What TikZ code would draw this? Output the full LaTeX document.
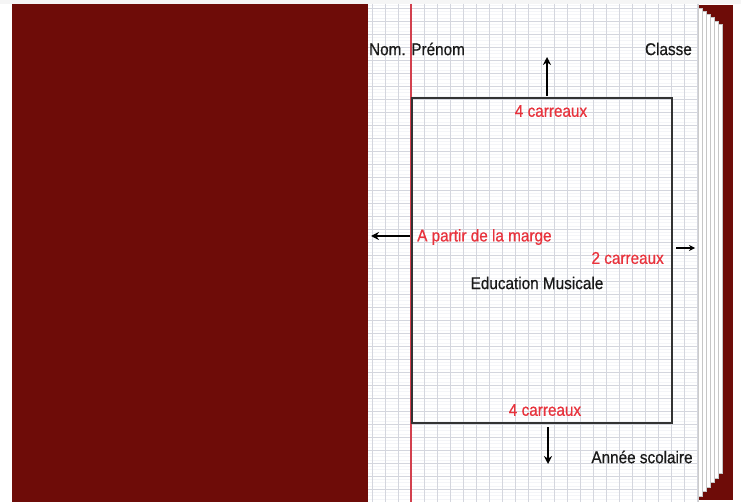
\documentclass[tikz,border=0pt]{standalone}
\usepackage{fontspec}
\setmainfont[FakeStretch=0.9,FakeBold=0.6]{Liberation Sans}
\usetikzlibrary{arrows.meta}
\definecolor{cover}{HTML}{6E0C08}
\definecolor{redtxt}{HTML}{E8323C}
\definecolor{marge}{HTML}{D2404E}
\definecolor{gridc}{HTML}{D4D6DE}
\definecolor{gridf}{HTML}{F4F5F8}
\tikzset{
  lbl/.style={font=\fontsize{17}{17}\selectfont, inner sep=0pt, text=black!90},
  rlbl/.style={lbl, text=redtxt},
  bigarrow/.style={-{Stealth[length=8pt,width=8pt]}, line width=1.9pt, black},
  smallarrow/.style={-{Stealth[length=6pt,width=6pt]}, line width=1.5pt, black},
  strip/.style={fill=white, draw=gray!45, line width=0.4pt}
}
\begin{document}
\begin{tikzpicture}[x=1pt,y=-1pt]
\useasboundingbox (0,0) rectangle (741,502);
\fill[white] (0,0) rectangle (741,502);
\fill[gray!8] (0,0) rectangle (741,4);
% left cover
\fill[cover] (12,4) rectangle (368,502);
% right back cover and page stack
\fill[cover] (697,5) -- (733,5) -- (733,500) -- (697,500) -- cycle;
\foreach \i in {5,4,3,2,1,0}{
  \draw[strip] ({698+4*\i},{8+3.2*\i}) rectangle ({702+4*\i},{496-4.5*\i});
}
% page
\fill[white] (368,4) rectangle (698,502);
\begin{scope}
\clip (368,4) rectangle (698,502);
\foreach \k in {-40,...,128}{
  \draw[gridf, line width=0.35pt] (368,{99+3.25*\k}) -- (698,{99+3.25*\k});
}
\foreach \k in {-10,...,32}{
  \draw[gridc, line width=0.55pt] (368,{99+13*\k}) -- (698,{99+13*\k});
}
\foreach \k in {-4,...,23}{
  \draw[gridc, line width=0.55pt] ({411+13*\k},4) -- ({411+13*\k},502);
}
\end{scope}
\draw[marge, line width=1.1pt] (411,4) -- (411,502);
\draw[gray!40, line width=0.4pt] (698,4) -- (698,502);
% frame
\node[draw=black!80, line width=1.6pt, minimum width=260pt, minimum height=325pt, inner sep=0pt, anchor=north west] (cadre) at (411,97) {};
% texts
\node[lbl] (nom) at (417,49) {Nom. Prénom};
\node[lbl, anchor=east] (classe) at (692,49) {Classe};
\node[rlbl] (haut) at (551,111) {4 carreaux};
\node[rlbl, anchor=west] (marge) at (417,237) {A partir de la marge};
\node[rlbl, anchor=east] (droite) at (664,258) {2 carreaux};
\node[lbl] (titre) at (537,283) {Education Musicale};
\node[rlbl] (bas) at (545,410) {4 carreaux};
\node[lbl] (annee) at (642,457) {Année scolaire};
% arrows
\coordinate (upA) at (547,96);
\coordinate (upB) at (547,57);
\draw[bigarrow] (upA) -- (upB);
\coordinate (lfA) at (410,236);
\coordinate (lfB) at (371,236);
\draw[bigarrow] (lfA) -- (lfB);
\coordinate (rtA) at (676,248);
\coordinate (rtB) at (695,248);
\draw[smallarrow] (rtA) -- (rtB);
\coordinate (dnA) at (548,427);
\coordinate (dnB) at (548,464);
\draw[bigarrow] (dnA) -- (dnB);
\end{tikzpicture}
\end{document}
